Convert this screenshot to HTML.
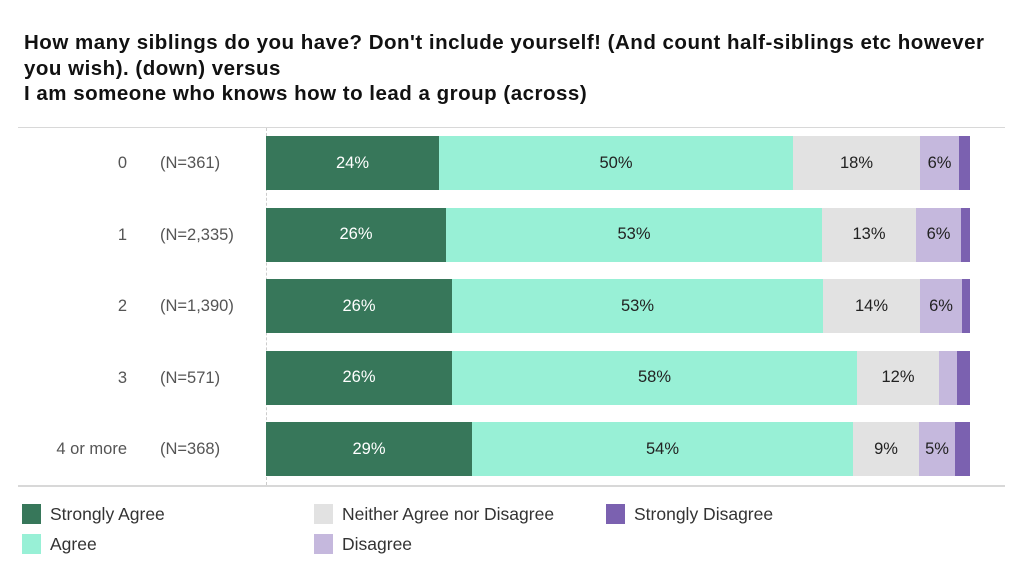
<!DOCTYPE html>
<html><head><meta charset="utf-8"><style>
body{margin:0;width:1024px;height:585px;background:#fff;font-family:"Liberation Sans",sans-serif;position:relative;overflow:hidden}
.t{position:absolute;left:24px;top:30px;font-size:20.5px;font-weight:bold;line-height:25.5px;color:#111;white-space:nowrap;letter-spacing:0.5px}
.hl{position:absolute;height:1px;background:#d8d8d8}
.seg{position:absolute;height:54px;display:flex;align-items:center;justify-content:center;font-size:16.5px;color:#222}
.lab{position:absolute;font-size:16.5px;color:#555;height:54px;line-height:54px}
.lg{position:absolute;font-size:17.5px;color:#333;height:20px;line-height:20px}
.lg i{position:absolute;left:0;top:0;width:19px;height:20px}
.lg span{position:absolute;left:28px;white-space:nowrap}
</style></head><body>
<div class="t">How many siblings do you have? Don't include yourself! (And count half-siblings etc however<br>you wish). (down) versus<br>I am someone who knows how to lead a group (across)</div>
<div class="hl" style="left:18px;width:987px;top:127px"></div>
<div class="hl" style="left:18px;width:987px;top:485px;height:2px"></div>
<div style="position:absolute;left:266px;top:128px;height:357px;border-left:1px dashed #ccc"></div>
<div id="c"></div>
<div class="lg" style="left:22px;top:504px"><i style="background:#37775a"></i><span>Strongly Agree</span></div>
<div class="lg" style="left:22px;top:534px"><i style="background:#98f0d6"></i><span>Agree</span></div>
<div class="lg" style="left:314px;top:504px"><i style="background:#e2e2e2"></i><span>Neither Agree nor Disagree</span></div>
<div class="lg" style="left:314px;top:534px"><i style="background:#c5b8dd"></i><span>Disagree</span></div>
<div class="lg" style="left:606px;top:504px"><i style="background:#7b61b0"></i><span>Strongly Disagree</span></div>
<script>
var rows=[["0","(N=361)",[266,439,793,920,959,970],["24%","50%","18%","6%",""]],
["1","(N=2,335)",[266,446,822,916,961,970],["26%","53%","13%","6%",""]],
["2","(N=1,390)",[266,452,823,920,962,970],["26%","53%","14%","6%",""]],
["3","(N=571)",[266,452,857,939,957,970],["26%","58%","12%","",""]],
["4 or more","(N=368)",[266,472,853,919,955,970],["29%","54%","9%","5%",""]]];
var cols=["#37775a","#98f0d6","#e2e2e2","#c5b8dd","#7b61b0"];
var h="";
rows.forEach(function(r,i){var y=136+i*71.5;
h+='<div class="lab" style="right:'+(1024-127)+'px;top:'+y+'px">'+r[0]+'</div>';
h+='<div class="lab" style="left:160px;top:'+y+'px">'+r[1]+'</div>';
for(var k=0;k<5;k++){h+='<div class="seg" style="left:'+r[2][k]+'px;width:'+(r[2][k+1]-r[2][k])+'px;top:'+y+'px;background:'+cols[k]+';'+(k==0?'color:#fff':'')+'">'+r[3][k]+'</div>';}
});
document.getElementById("c").innerHTML=h;
</script>
</body></html>
